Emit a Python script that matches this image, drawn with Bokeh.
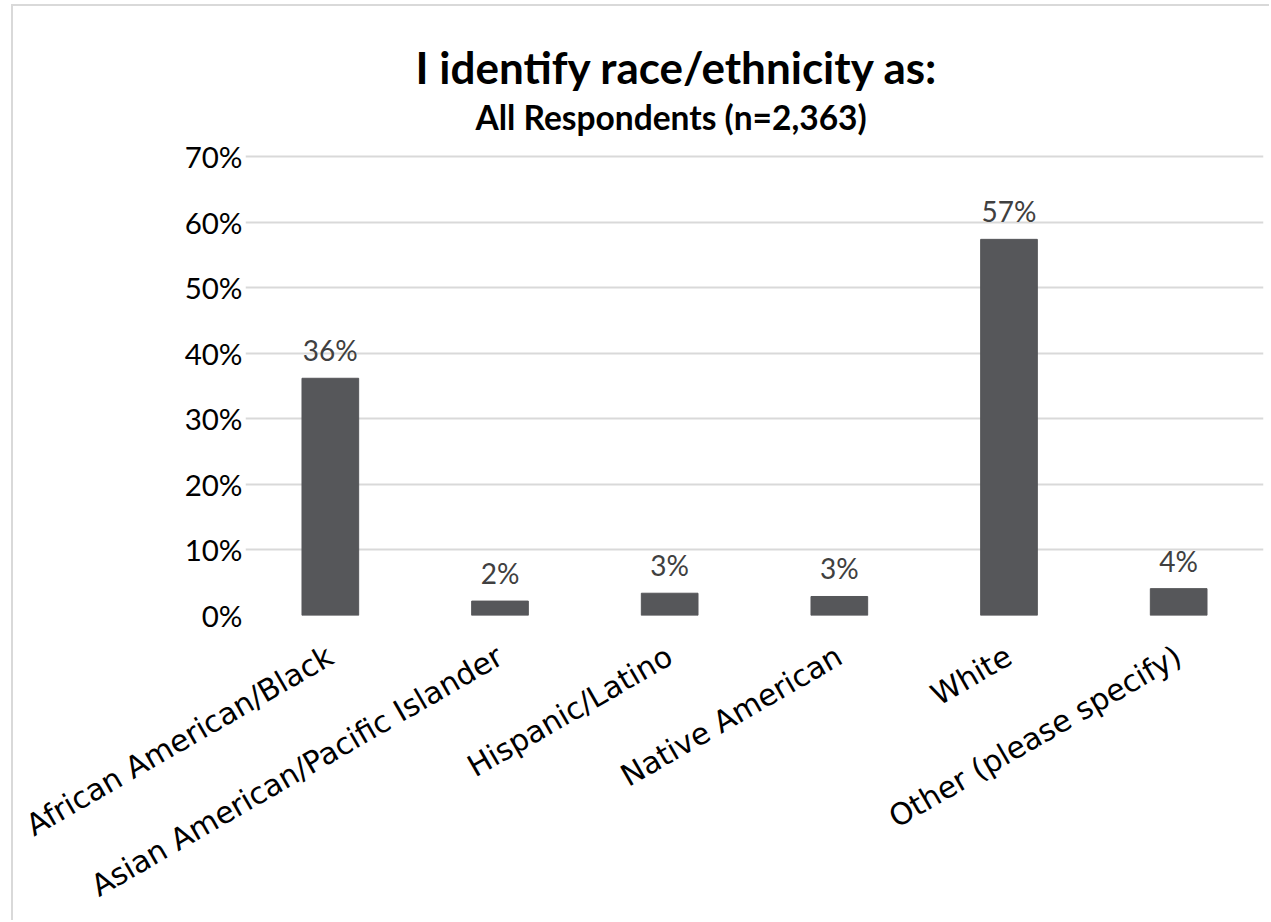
import math
from bokeh.plotting import figure
from bokeh.models import (Range1d, FactorRange, FixedTicker, NumeralTickFormatter,
                          Title, ColumnDataSource)
from bokeh.core.properties import value
from bokeh.embed import file_html
from bokeh.resources import INLINE

categories = ["African American/Black", "Asian American/Pacific Islander",
              "Hispanic/Latino", "Native American", "White", "Other (please specify)"]
shares = [0.362, 0.022, 0.034, 0.029, 0.574, 0.041]
value_labels = ["36%", "2%", "3%", "3%", "57%", "4%"]
y_ticks = [0, 0.1, 0.2, 0.3, 0.4, 0.5, 0.6, 0.7]
title_text = "I identify race/ethnicity as:"
subtitle_text = "All Respondents (n=2,363)"

src = ColumnDataSource(dict(cat=categories, val=shares, lab=value_labels))

W, H = 1258, 916
p = figure(x_range=FactorRange(*categories), y_range=Range1d(0, 0.705),
           width=W, height=H, output_backend="svg", toolbar_location=None,
           min_border_left=232, min_border_right=8, min_border_top=147,
           min_border_bottom=307, title=None)
p.styles = {"border-left": "2px solid #D9D9D9", "border-top": "2px solid #D9D9D9",
            "margin-left": "11px", "margin-top": "4px"}
p.outline_line_color = None
p.background_fill_color = "white"
p.border_fill_color = "white"

p.vbar(x="cat", top="val", width=0.334, source=src, color="#56575A")
p.text(x="cat", y="val", text="lab", source=src, text_align="center",
       text_baseline="bottom", y_offset=-11, text_font_size="28px",
       text_font=value("Lato"), text_color="#404040")

# y axis
p.yaxis.ticker = FixedTicker(ticks=y_ticks)
p.yaxis.formatter = NumeralTickFormatter(format="0%")
p.yaxis.axis_line_color = None
p.yaxis.major_tick_line_color = None
p.yaxis.minor_tick_line_color = None
p.yaxis.major_label_text_font = "Lato"
p.yaxis.major_label_text_font_size = "29.5px"
p.yaxis.major_label_text_color = "#000000"
p.yaxis.major_label_standoff = -3

# x axis
p.xaxis.axis_line_color = None
p.xaxis.major_tick_line_color = None
p.xaxis.major_label_orientation = math.radians(30)
p.xaxis.major_label_text_font = "DejaVu Sans"
p.xaxis.major_label_text_font_size = "30px"
p.xaxis.major_label_text_color = "#000000"
p.xaxis.major_label_standoff = 32

p.xgrid.grid_line_color = None
p.ygrid.grid_line_color = "#D9D9D9"
p.ygrid.grid_line_width = 2

sub = Title(text=subtitle_text, align="left", offset=230, text_font="Lato",
            text_font_style="bold", text_font_size="33.5px", text_color="#000000",
            standoff=33)
main = Title(text=title_text, align="left", offset=170, text_font="Lato",
             text_font_style="bold", text_font_size="44px", text_color="#000000",
             standoff=-28)
p.add_layout(sub, "above")
p.add_layout(main, "above")

open("out.html", "w").write(file_html(p, INLINE))
